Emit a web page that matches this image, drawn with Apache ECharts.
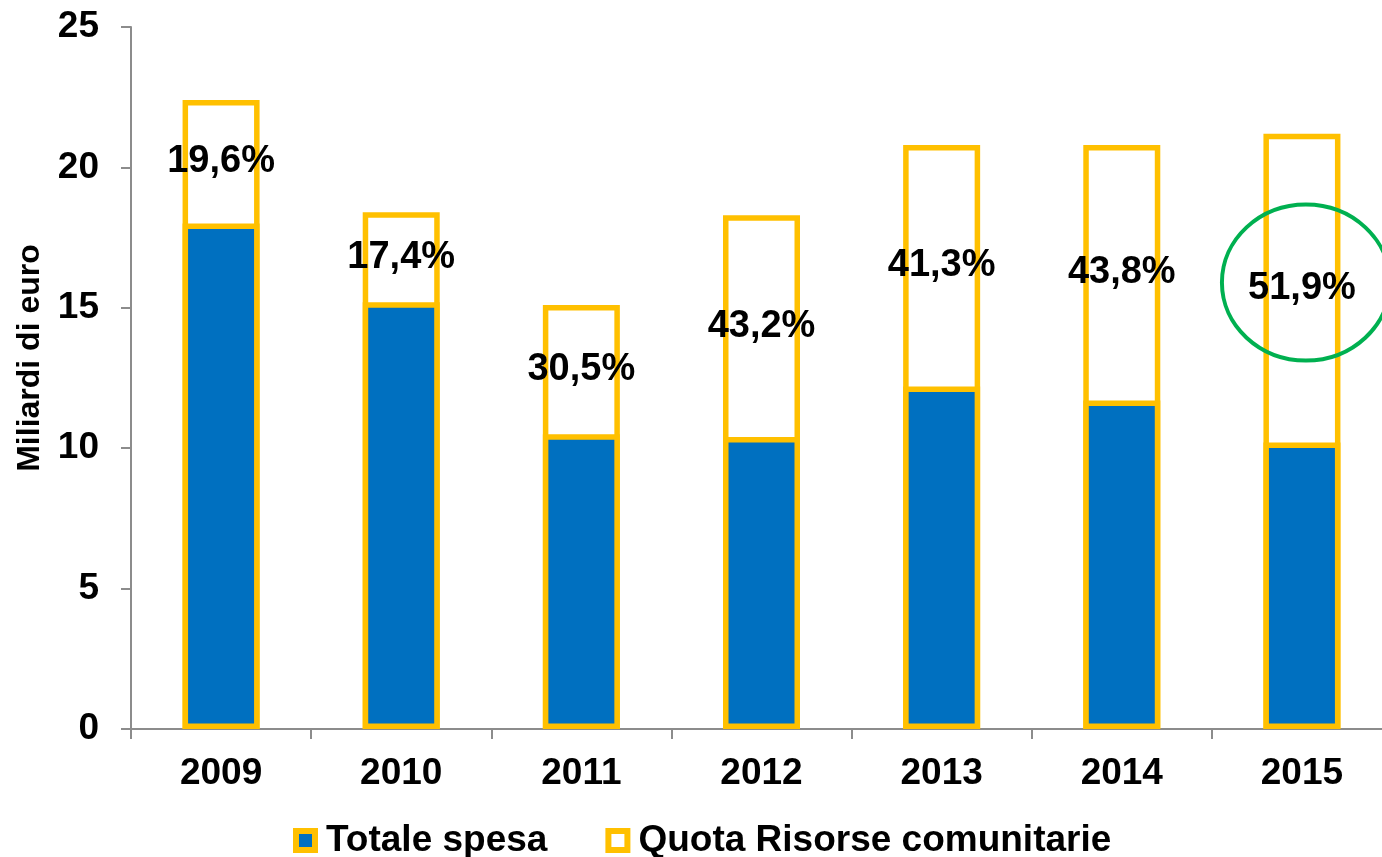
<!DOCTYPE html>
<html>
<head>
<meta charset="utf-8">
<script src="https://cdn.jsdelivr.net/npm/echarts@6/dist/echarts.min.js"></script>
<style>
html,body{margin:0;padding:0;background:#fff;}
#main{width:1382px;height:857px;}
</style>
</head>
<body>
<div id="main"></div>
<script>
const categories = ['2009', '2010', '2011', '2012', '2013', '2014', '2015'];
const totaleSpesa = [18.0, 15.2, 10.5, 10.4, 12.2, 11.7, 10.2];
const quotaRisorse = [4.4, 3.2, 4.6, 7.9, 8.6, 9.1, 11.0];
const quotaLabels = ['19,6%', '17,4%', '30,5%', '43,2%', '41,3%', '43,8%', '51,9%'];
const yTicks = [0, 5, 10, 15, 20, 25];
const highlight = { category: '2015', value: 15.9 };

const FONT = '"Liberation Sans", Arial, sans-serif';
const YELLOW = '#FFC000';
const BLUE = '#0070C0';
const AXIS = '#8C8C8C';

const barTops = totaleSpesa.map((v, i) => +(v + quotaRisorse[i]).toFixed(2));

const chart = echarts.init(document.getElementById('main'));
chart.setOption({
  animation: false,
  backgroundColor: '#ffffff',
  textStyle: { fontFamily: FONT },
  grid: { left: 131, width: 1261, top: 27, bottom: 128, containLabel: false, outerBoundsMode: 'none' },
  legend: {
    left: 288, top: 817,
    itemWidth: 19, itemHeight: 19, itemGap: 58,
    icon: 'rect',
    itemStyle: { borderWidth: 6 },
    textStyle: { fontSize: 37, fontWeight: 'bold', color: '#000', fontFamily: FONT, padding: [0, 0, 0, 6] },
    data: ['Totale spesa', 'Quota Risorse comunitarie']
  },
  xAxis: {
    type: 'category',
    data: categories,
    axisLine: { lineStyle: { color: AXIS, width: 2 } },
    axisTick: { show: true, length: 10, lineStyle: { color: AXIS, width: 2 } },
    axisLabel: { margin: 26, fontSize: 37, fontWeight: 'bold', color: '#000', fontFamily: FONT }
  },
  yAxis: {
    type: 'value',
    min: yTicks[0], max: yTicks[yTicks.length - 1], interval: 5,
    name: 'Miliardi di euro',
    nameLocation: 'middle',
    nameGap: 85,
    nameRotate: 90,
    nameTextStyle: { fontSize: 32, fontWeight: 'bold', color: '#000', fontFamily: FONT, padding: [0, 0, 0, 40] },
    axisLine: { show: true, lineStyle: { color: AXIS, width: 2 } },
    axisTick: { show: true, length: 10, lineStyle: { color: AXIS, width: 2 } },
    splitLine: { show: false },
    axisLabel: { margin: 32, fontSize: 37, fontWeight: 'bold', color: '#000', fontFamily: FONT }
  },
  series: [
    {
      name: 'Quota Risorse comunitarie',
      type: 'bar',
      barWidth: 77,
      barGap: '-100%',
      z: 2,
      data: barTops,
      itemStyle: { color: '#ffffff', borderColor: YELLOW, borderWidth: 5.5 }
    },
    {
      name: 'Totale spesa',
      type: 'bar',
      stack: 'seg',
      barWidth: 77,
      barGap: '-100%',
      z: 3,
      data: totaleSpesa,
      itemStyle: { color: BLUE, borderColor: YELLOW, borderWidth: 5.5 }
    },
    {
      name: 'labels',
      type: 'bar',
      stack: 'seg',
      barWidth: 77,
      barGap: '-100%',
      z: 4,
      data: quotaRisorse,
      itemStyle: { color: 'rgba(0,0,0,0)', borderWidth: 0 },
      emphasis: { disabled: true },
      label: {
        show: true,
        position: 'inside',
        formatter: p => quotaLabels[p.dataIndex],
        fontSize: 38, fontWeight: 'bold', color: '#000', fontFamily: FONT,
        textBorderWidth: 0
      }
    }
  ]
});

const c = chart.convertToPixel({ xAxisIndex: 0, yAxisIndex: 0 }, [highlight.category, highlight.value]);
chart.setOption({
  graphic: [{
    type: 'ellipse',
    shape: { cx: c[0] + 4, cy: c[1], rx: 84, ry: 78 },
    style: { fill: 'none', stroke: '#00B050', lineWidth: 4 },
    z: 100
  }]
});
</script>
</body>
</html>
